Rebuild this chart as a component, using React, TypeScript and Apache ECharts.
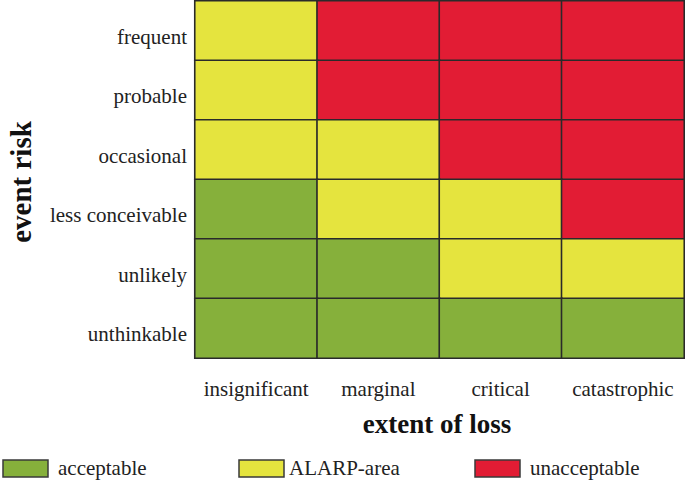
import React, { useEffect, useRef } from "react";
import * as echarts from "echarts";

const lossCategories = ["insignificant", "marginal", "critical", "catastrophic"];
const riskCategories = ["frequent", "probable", "occasional", "less conceivable", "unlikely", "unthinkable"];
const levelNames = ["acceptable", "ALARP-area", "unacceptable"];
const levelColors = ["#86b03b", "#e5e43e", "#e21c34"];
// rows follow riskCategories (top to bottom), columns follow lossCategories; 0=acceptable,1=ALARP,2=unacceptable
const riskMatrix = [
  [1, 2, 2, 2],
  [1, 2, 2, 2],
  [1, 1, 2, 2],
  [0, 1, 1, 2],
  [0, 0, 1, 1],
  [0, 0, 0, 0],
];

const FONT = "'Liberation Serif', 'DejaVu Serif', serif";

export default function App() {
  const ref = useRef<HTMLDivElement>(null);
  useEffect(() => {
    if (!ref.current) return;
    const chart = echarts.init(ref.current, undefined, { renderer: "svg" });
    const data: any[] = [];
    riskMatrix.forEach((row, r) =>
      row.forEach((v, c) => {
        data.push([c, r, v]);
      })
    );
    const boxX = [3, 239, 475];
    const textX = [58, 289, 530];
    const graphics: any[] = [];
    levelNames.forEach((name, i) => {
      graphics.push({
        type: "rect",
        shape: { x: boxX[i], y: 460, width: 45, height: 17 },
        style: { fill: levelColors[i], stroke: "#3a3a3a", lineWidth: 1.5 },
      });
      graphics.push({
        type: "text",
        x: textX[i],
        y: 468,
        style: { text: name, font: `21px ${FONT}`, fill: "#222", verticalAlign: "middle" },
      });
    });
    graphics.push({
      type: "text",
      x: 437,
      y: 424,
      style: { text: "extent of loss", font: `bold 27px ${FONT}`, fill: "#111", align: "center", verticalAlign: "middle" },
    });
    graphics.push({
      type: "text",
      x: 21,
      y: 182,
      rotation: Math.PI / 2,
      style: { text: "event risk", font: `bold 29px ${FONT}`, fill: "#111", align: "center", verticalAlign: "middle" },
    });
    chart.setOption({
      animation: false,
      grid: { left: 195, top: 1, width: 489, height: 357 },
      xAxis: {
        type: "category",
        data: lossCategories,
        axisLine: { show: false },
        axisTick: { show: false },
        splitLine: { show: false },
        axisLabel: { interval: 0, margin: 20, fontFamily: FONT, fontSize: 21, color: "#222" },
      },
      yAxis: {
        type: "category",
        data: riskCategories,
        inverse: true,
        axisLine: { show: false },
        axisTick: { show: false },
        splitLine: { show: false },
        axisLabel: {
          interval: 0,
          margin: 8,
          fontFamily: FONT,
          fontSize: 21,
          color: "#222",
          verticalAlign: "top",
          lineHeight: 12,
        },
      },
      visualMap: {
        type: "piecewise",
        show: false,
        dimension: 2,
        pieces: levelNames.map((n, i) => ({ value: i, color: levelColors[i], label: n })),
      },
      series: [
        {
          type: "heatmap",
          data,
          itemStyle: { borderColor: "#2a2a2a", borderWidth: 1.6 },
          emphasis: { disabled: true },
        },
      ],
      graphic: graphics,
    });
    return () => chart.dispose();
  }, []);
  return <div ref={ref} style={{ width: 685, height: 483, position: "absolute", left: 0, top: 0 }} />;
}
